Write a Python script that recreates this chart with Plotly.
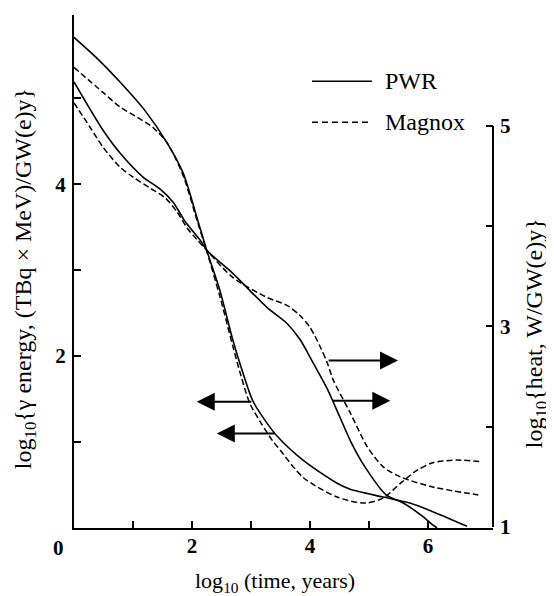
import plotly.graph_objects as go

# ---- data (x = log10 time in years) ----
# gamma energy, left axis: log10{gamma energy, (TBq x MeV)/GW(e)y}
pwr_gamma_x = [0.0, 0.40, 0.78, 1.20, 1.58, 1.85, 2.08, 2.25, 2.47, 2.69, 2.86, 3.03, 3.22, 3.44, 3.88, 4.46, 4.68, 5.24, 5.69, 6.08, 6.66]
pwr_gamma_y = [5.71, 5.46, 5.19, 4.86, 4.48, 4.13, 3.62, 3.23, 2.77, 2.19, 1.81, 1.48, 1.27, 1.07, 0.79, 0.52, 0.45, 0.36, 0.29, 0.19, 0.02]

magnox_gamma_x = [0.0, 0.49, 0.78, 1.07, 1.34, 1.58, 1.85, 2.08, 2.25, 2.47, 2.69, 2.83, 2.98, 3.18, 3.36, 3.49, 3.88, 4.46, 4.93, 5.24, 5.53, 5.81, 6.08, 6.49, 6.92]
magnox_gamma_y = [5.36, 5.07, 4.90, 4.78, 4.66, 4.48, 4.10, 3.59, 3.22, 2.70, 2.12, 1.77, 1.45, 1.21, 1.02, 0.91, 0.59, 0.36, 0.29, 0.35, 0.52, 0.67, 0.76, 0.79, 0.77]

# heat, right axis: log10{heat, W/GW(e)y}
pwr_heat_x = [0.0, 0.49, 0.78, 1.17, 1.46, 1.68, 1.88, 2.14, 2.25, 2.69, 3.27, 3.61, 3.83, 4.05, 4.29, 4.51, 4.70, 4.93, 5.29, 5.58, 5.92, 6.08, 6.15]
pwr_heat_y = [5.44, 4.96, 4.73, 4.49, 4.37, 4.24, 4.05, 3.86, 3.76, 3.53, 3.19, 3.03, 2.87, 2.64, 2.38, 2.09, 1.84, 1.60, 1.32, 1.24, 1.10, 1.02, 0.99]

magnox_heat_x = [0.0, 0.27, 0.49, 0.78, 1.0, 1.29, 1.55, 1.75, 1.92, 2.08, 2.25, 2.69, 3.27, 3.61, 3.83, 4.0, 4.17, 4.29, 4.39, 4.68, 4.97, 5.24, 5.53, 6.08, 6.85]
magnox_heat_y = [5.23, 4.99, 4.79, 4.59, 4.49, 4.38, 4.28, 4.14, 3.98, 3.87, 3.76, 3.49, 3.29, 3.21, 3.11, 2.99, 2.80, 2.64, 2.47, 2.14, 1.80, 1.60, 1.50, 1.40, 1.32]

x_tick_vals = [1, 2, 3, 4, 5, 6]
x_tick_text = ["", "2", "", "4", "", "6"]
left_tick_vals = [1, 2, 3, 4, 5]
left_tick_text = ["", "2", "", "4", ""]
right_tick_vals = [1, 2, 3, 4, 5]
right_tick_text = ["1", "", "3", "", "5"]

FONT = "Liberation Serif"
solid = dict(color="black", width=1.6, shape="spline", smoothing=0.8)
dashed = dict(color="black", width=1.5, dash="6px,3px", shape="spline", smoothing=0.8)

fig = go.Figure()
fig.add_trace(go.Scatter(x=pwr_gamma_x, y=pwr_gamma_y, mode="lines", line=solid, name="PWR", yaxis="y"))
fig.add_trace(go.Scatter(x=magnox_gamma_x, y=magnox_gamma_y, mode="lines", line=dashed, name="Magnox", yaxis="y"))
fig.add_trace(go.Scatter(x=pwr_heat_x, y=pwr_heat_y, mode="lines", line=solid, name="PWR", yaxis="y2"))
fig.add_trace(go.Scatter(x=magnox_heat_x, y=magnox_heat_y, mode="lines", line=dashed, name="Magnox", yaxis="y2"))

axis_common = dict(showgrid=False, zeroline=False, ticks="inside", ticklen=7, tickwidth=1.5,
                   tickcolor="black", automargin=False,
                   tickfont=dict(family=FONT, size=21, color="black", weight="bold"))

# the page body has an 8px margin, so the figure is 8px smaller and margins shifted accordingly
fig.update_layout(
    width=546, height=588,
    margin=dict(l=66, r=61, t=7, b=68, autoexpand=False),
    paper_bgcolor="white", plot_bgcolor="white",
    showlegend=False,
    font=dict(family=FONT, size=21, color="black"),
    xaxis=dict(range=[0, 7.1], showline=True, linecolor="black", linewidth=2,
               tickvals=x_tick_vals, ticktext=x_tick_text, ticklabelstandoff=-2, **axis_common),
    yaxis=dict(range=[0, 5.97], showline=True, linecolor="black", linewidth=2,
               tickvals=left_tick_vals, ticktext=left_tick_text, ticklabelstandoff=2, **axis_common),
    yaxis2=dict(range=[0.99, 6.107], overlaying="y", side="right", showline=False,
                tickvals=right_tick_vals, ticktext=right_tick_text, ticklabelstandoff=6, **axis_common),
)

# right axis line spans only 1..5
fig.add_shape(type="line", xref="paper", x0=1, x1=1, yref="y2", y0=1, y1=5,
              line=dict(color="black", width=2))

# legend drawn by hand
fig.add_shape(type="line", xref="paper", yref="paper", x0=0.568, x1=0.711, y0=0.871, y1=0.871,
              line=dict(color="black", width=1.6))
fig.add_shape(type="line", xref="paper", yref="paper", x0=0.568, x1=0.711, y0=0.791, y1=0.791,
              line=dict(color="black", width=1.5, dash="6px,4px"))
fig.add_annotation(text="PWR", xref="paper", yref="paper", x=0.737, y=0.871, xanchor="left",
                   yanchor="middle", showarrow=False, font=dict(family=FONT, size=24))
fig.add_annotation(text="Magnox", xref="paper", yref="paper", x=0.737, y=0.791, xanchor="left",
                   yanchor="middle", showarrow=False, font=dict(family=FONT, size=24))

# axis titles
fig.add_annotation(text="log<sub>10</sub> (time, years)", xref="paper", yref="paper",
                   x=0.48, y=-0.105, xanchor="center", yanchor="middle", showarrow=False,
                   font=dict(family=FONT, size=22))
fig.add_annotation(text="log<sub>10</sub>{γ energy, (TBq × MeV)/GW(e)y}", xref="paper", yref="paper",
                   x=-0.117, y=0.487, xanchor="center", yanchor="middle", textangle=-90,
                   showarrow=False, font=dict(family=FONT, size=24))
fig.add_annotation(text="log<sub>10</sub>{heat, W/GW(e)y}", xref="paper", yref="paper",
                   x=1.103, y=0.38, xanchor="center", yanchor="middle", textangle=-90,
                   showarrow=False, font=dict(family=FONT, size=24))

# corner zero
fig.add_annotation(text="0", x=0, xref="x", y=0, yref="paper", yanchor="top", xanchor="center",
                   xshift=-16, yshift=-6, showarrow=False,
                   font=dict(family=FONT, size=21, weight="bold"))

# arrows indicating axis
arrow_style = dict(text="", showarrow=True, arrowhead=2, arrowsize=1.8, arrowwidth=2,
                   arrowcolor="black", standoff=0, startstandoff=0)
fig.add_annotation(x=2.08, y=1.47, ax=3.03, ay=1.47, xref="x", yref="y", axref="x", ayref="y", **arrow_style)
fig.add_annotation(x=2.42, y=1.10, ax=3.42, ay=1.10, xref="x", yref="y", axref="x", ayref="y", **arrow_style)
fig.add_annotation(x=5.49, y=2.66, ax=4.29, ay=2.66, xref="x", yref="y2", axref="x", ayref="y2", **arrow_style)
fig.add_annotation(x=5.36, y=2.26, ax=4.36, ay=2.26, xref="x", yref="y2", axref="x", ayref="y2", **arrow_style)

fig.write_html("out.html")
